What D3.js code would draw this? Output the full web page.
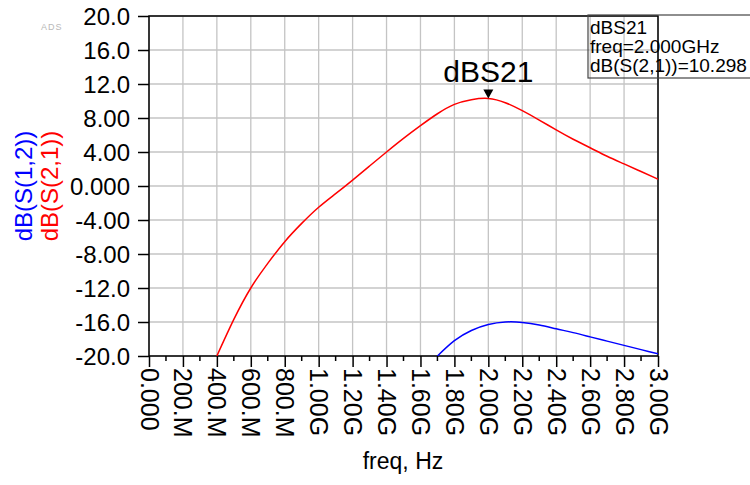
<!DOCTYPE html>
<html>
<head>
<meta charset="utf-8">
<script src="https://cdn.jsdelivr.net/npm/d3@7"></script>
<style>
  body { margin: 0; background: #fff; }
  svg text { font-family: Arial, "Liberation Sans", sans-serif; }
</style>
</head>
<body>
<div id="chart"></div>
<script>
// freq in GHz
const freqS21 = [0.4, 0.5, 0.6, 0.7, 0.8, 0.9, 1.0, 1.1, 1.2, 1.3, 1.4, 1.5, 1.6, 1.7, 1.8, 1.9, 2.0, 2.1, 2.2, 2.3, 2.4, 2.5, 2.6, 2.7, 2.8, 2.9, 3.0];
const dbS21 = [-20.0, -15.7, -12.0, -9.1, -6.55, -4.4, -2.5, -0.9, 0.7, 2.35, 4.0, 5.6, 7.1, 8.5, 9.6, 10.15, 10.298, 9.8, 8.86, 7.76, 6.6, 5.5, 4.5, 3.5, 2.6, 1.7, 0.8];

const freqS12 = [1.7, 1.8, 1.9, 2.0, 2.1, 2.2, 2.3, 2.4, 2.5, 2.6, 2.7, 2.8, 2.9, 3.0];
const dbS12 = [-20.0, -18.2, -17.0, -16.3, -16.0, -16.05, -16.35, -16.8, -17.25, -17.75, -18.25, -18.75, -19.25, -19.75];

const yTicks = [20, 16, 12, 8, 4, 0, -4, -8, -12, -16, -20];
const yTickLabels = ['20.0', '16.0', '12.0', '8.00', '4.00', '0.000', '-4.00', '-8.00', '-12.0', '-16.0', '-20.0'];
const xTicks = [0, 0.2, 0.4, 0.6, 0.8, 1.0, 1.2, 1.4, 1.6, 1.8, 2.0, 2.2, 2.4, 2.6, 2.8, 3.0];
const xTickLabels = ['0.000', '200.M', '400.M', '600.M', '800.M', '1.00G', '1.20G', '1.40G', '1.60G', '1.80G', '2.00G', '2.20G', '2.40G', '2.60G', '2.80G', '3.00G'];
const xMinorTicks = [0.1, 0.3, 0.5, 0.7, 0.9, 1.1, 1.3, 1.5, 1.7, 1.9, 2.1, 2.3, 2.5, 2.7, 2.9];

const markerFreq = 2.0;
const markerValue = 10.298;
const markerLines = ['dBS21', 'freq=2.000GHz', 'dB(S(2,1))=10.298'];

const W = 750, H = 485;
const pLeft = 149, pRight = 658, pTop = 16, pBottom = 356;

const svg = d3.select('#chart').append('svg')
    .attr('width', W)
    .attr('height', H);

const x = d3.scaleLinear().domain([0, 3]).range([pLeft, pRight]);
const y = d3.scaleLinear().domain([-20, 20]).range([pBottom, pTop]);

// grid
svg.append('g')
    .selectAll('line')
    .data(xTicks)
    .enter().append('line')
    .attr('x1', d => x(d)).attr('x2', d => x(d))
    .attr('y1', pTop).attr('y2', pBottom)
    .attr('stroke', '#c4c4c4').attr('stroke-width', 1.3);

svg.append('g')
    .selectAll('line')
    .data(yTicks)
    .enter().append('line')
    .attr('x1', pLeft).attr('x2', pRight)
    .attr('y1', d => y(d)).attr('y2', d => y(d))
    .attr('stroke', '#c4c4c4').attr('stroke-width', 1.3);

// y axis
const yAxis = svg.append('g')
    .attr('transform', `translate(${pLeft},0)`)
    .call(d3.axisLeft(y)
        .tickValues(yTicks)
        .tickSize(11)
        .tickPadding(8)
        .tickFormat((d, i) => yTickLabels[i]));
yAxis.select('.domain').remove();
yAxis.selectAll('line').attr('stroke', '#000').attr('stroke-width', 1.5);
yAxis.selectAll('text')
    .attr('fill', '#000')
    .style('font-size', '24px')
    .attr('dy', '0.36em');

// x axis
const xAxis = svg.append('g')
    .attr('transform', `translate(0,${pBottom})`)
    .call(d3.axisBottom(x)
        .tickValues(xTicks)
        .tickSize(11)
        .tickFormat((d, i) => xTickLabels[i]));
xAxis.select('.domain').remove();
xAxis.selectAll('line').attr('stroke', '#000').attr('stroke-width', 1.5);
xAxis.selectAll('text')
    .attr('fill', '#000')
    .style('font-size', '25px')
    .attr('transform', 'rotate(90)')
    .attr('x', 12)
    .attr('y', 0)
    .attr('dy', '0.36em')
    .style('text-anchor', 'start');

svg.append('g')
    .selectAll('line')
    .data(xMinorTicks)
    .enter().append('line')
    .attr('x1', d => x(d)).attr('x2', d => x(d))
    .attr('y1', pBottom).attr('y2', pBottom + 5)
    .attr('stroke', '#000').attr('stroke-width', 1.5);

// frame
svg.append('rect')
    .attr('x', pLeft).attr('y', pTop)
    .attr('width', pRight - pLeft).attr('height', pBottom - pTop)
    .attr('fill', 'none')
    .attr('stroke', '#000').attr('stroke-width', 1.5);

// curves
svg.append('clipPath').attr('id', 'plotclip')
    .append('rect')
    .attr('x', pLeft).attr('y', pTop)
    .attr('width', pRight - pLeft).attr('height', pBottom - pTop);

const line = d3.line()
    .x(d => x(d[0]))
    .y(d => y(d[1]))
    .curve(d3.curveNatural);

svg.append('path')
    .datum(d3.zip(freqS21, dbS21))
    .attr('clip-path', 'url(#plotclip)')
    .attr('fill', 'none')
    .attr('stroke', '#ff0000')
    .attr('stroke-width', 1.5)
    .attr('d', line);

svg.append('path')
    .datum(d3.zip(freqS12, dbS12))
    .attr('clip-path', 'url(#plotclip)')
    .attr('fill', 'none')
    .attr('stroke', '#0000ff')
    .attr('stroke-width', 1.5)
    .attr('d', line);

// marker
const mx = x(markerFreq), my = y(markerValue);
svg.append('path')
    .attr('d', `M${mx - 5},${my - 9}L${mx + 5},${my - 9}L${mx},${my}Z`)
    .attr('fill', '#000');
svg.append('text')
    .attr('x', mx)
    .attr('y', my - 16)
    .attr('text-anchor', 'middle')
    .style('font-size', '30px')
    .attr('fill', '#000')
    .text(markerLines[0]);

// marker readout box
svg.append('rect')
    .attr('x', 588).attr('y', 15)
    .attr('width', 170).attr('height', 63)
    .attr('fill', 'none')
    .attr('stroke', '#444').attr('stroke-width', 1.2);
svg.append('g')
    .selectAll('text')
    .data(markerLines)
    .enter().append('text')
    .attr('x', 590)
    .attr('y', (d, i) => 34 + i * 19)
    .style('font-size', '19px')
    .attr('fill', '#000')
    .text(d => d);

// axis titles
svg.append('text')
    .attr('transform', `translate(32,${(pTop + pBottom) / 2}) rotate(-90)`)
    .attr('text-anchor', 'middle')
    .style('font-size', '24px')
    .attr('fill', '#0000ff')
    .text('dB(S(1,2))');
svg.append('text')
    .attr('transform', `translate(58,${(pTop + pBottom) / 2}) rotate(-90)`)
    .attr('text-anchor', 'middle')
    .style('font-size', '24px')
    .attr('fill', '#ff0000')
    .text('dB(S(2,1))');

svg.append('text')
    .attr('x', 403)
    .attr('y', 469)
    .attr('text-anchor', 'middle')
    .style('font-size', '23px')
    .attr('fill', '#000')
    .text('freq, Hz');

// faint logo
svg.append('text')
    .attr('x', 41)
    .attr('y', 30)
    .style('font-size', '9px')
    .style('letter-spacing', '1px')
    .attr('fill', '#b8b8b8')
    .text('ADS');
</script>
</body>
</html>
